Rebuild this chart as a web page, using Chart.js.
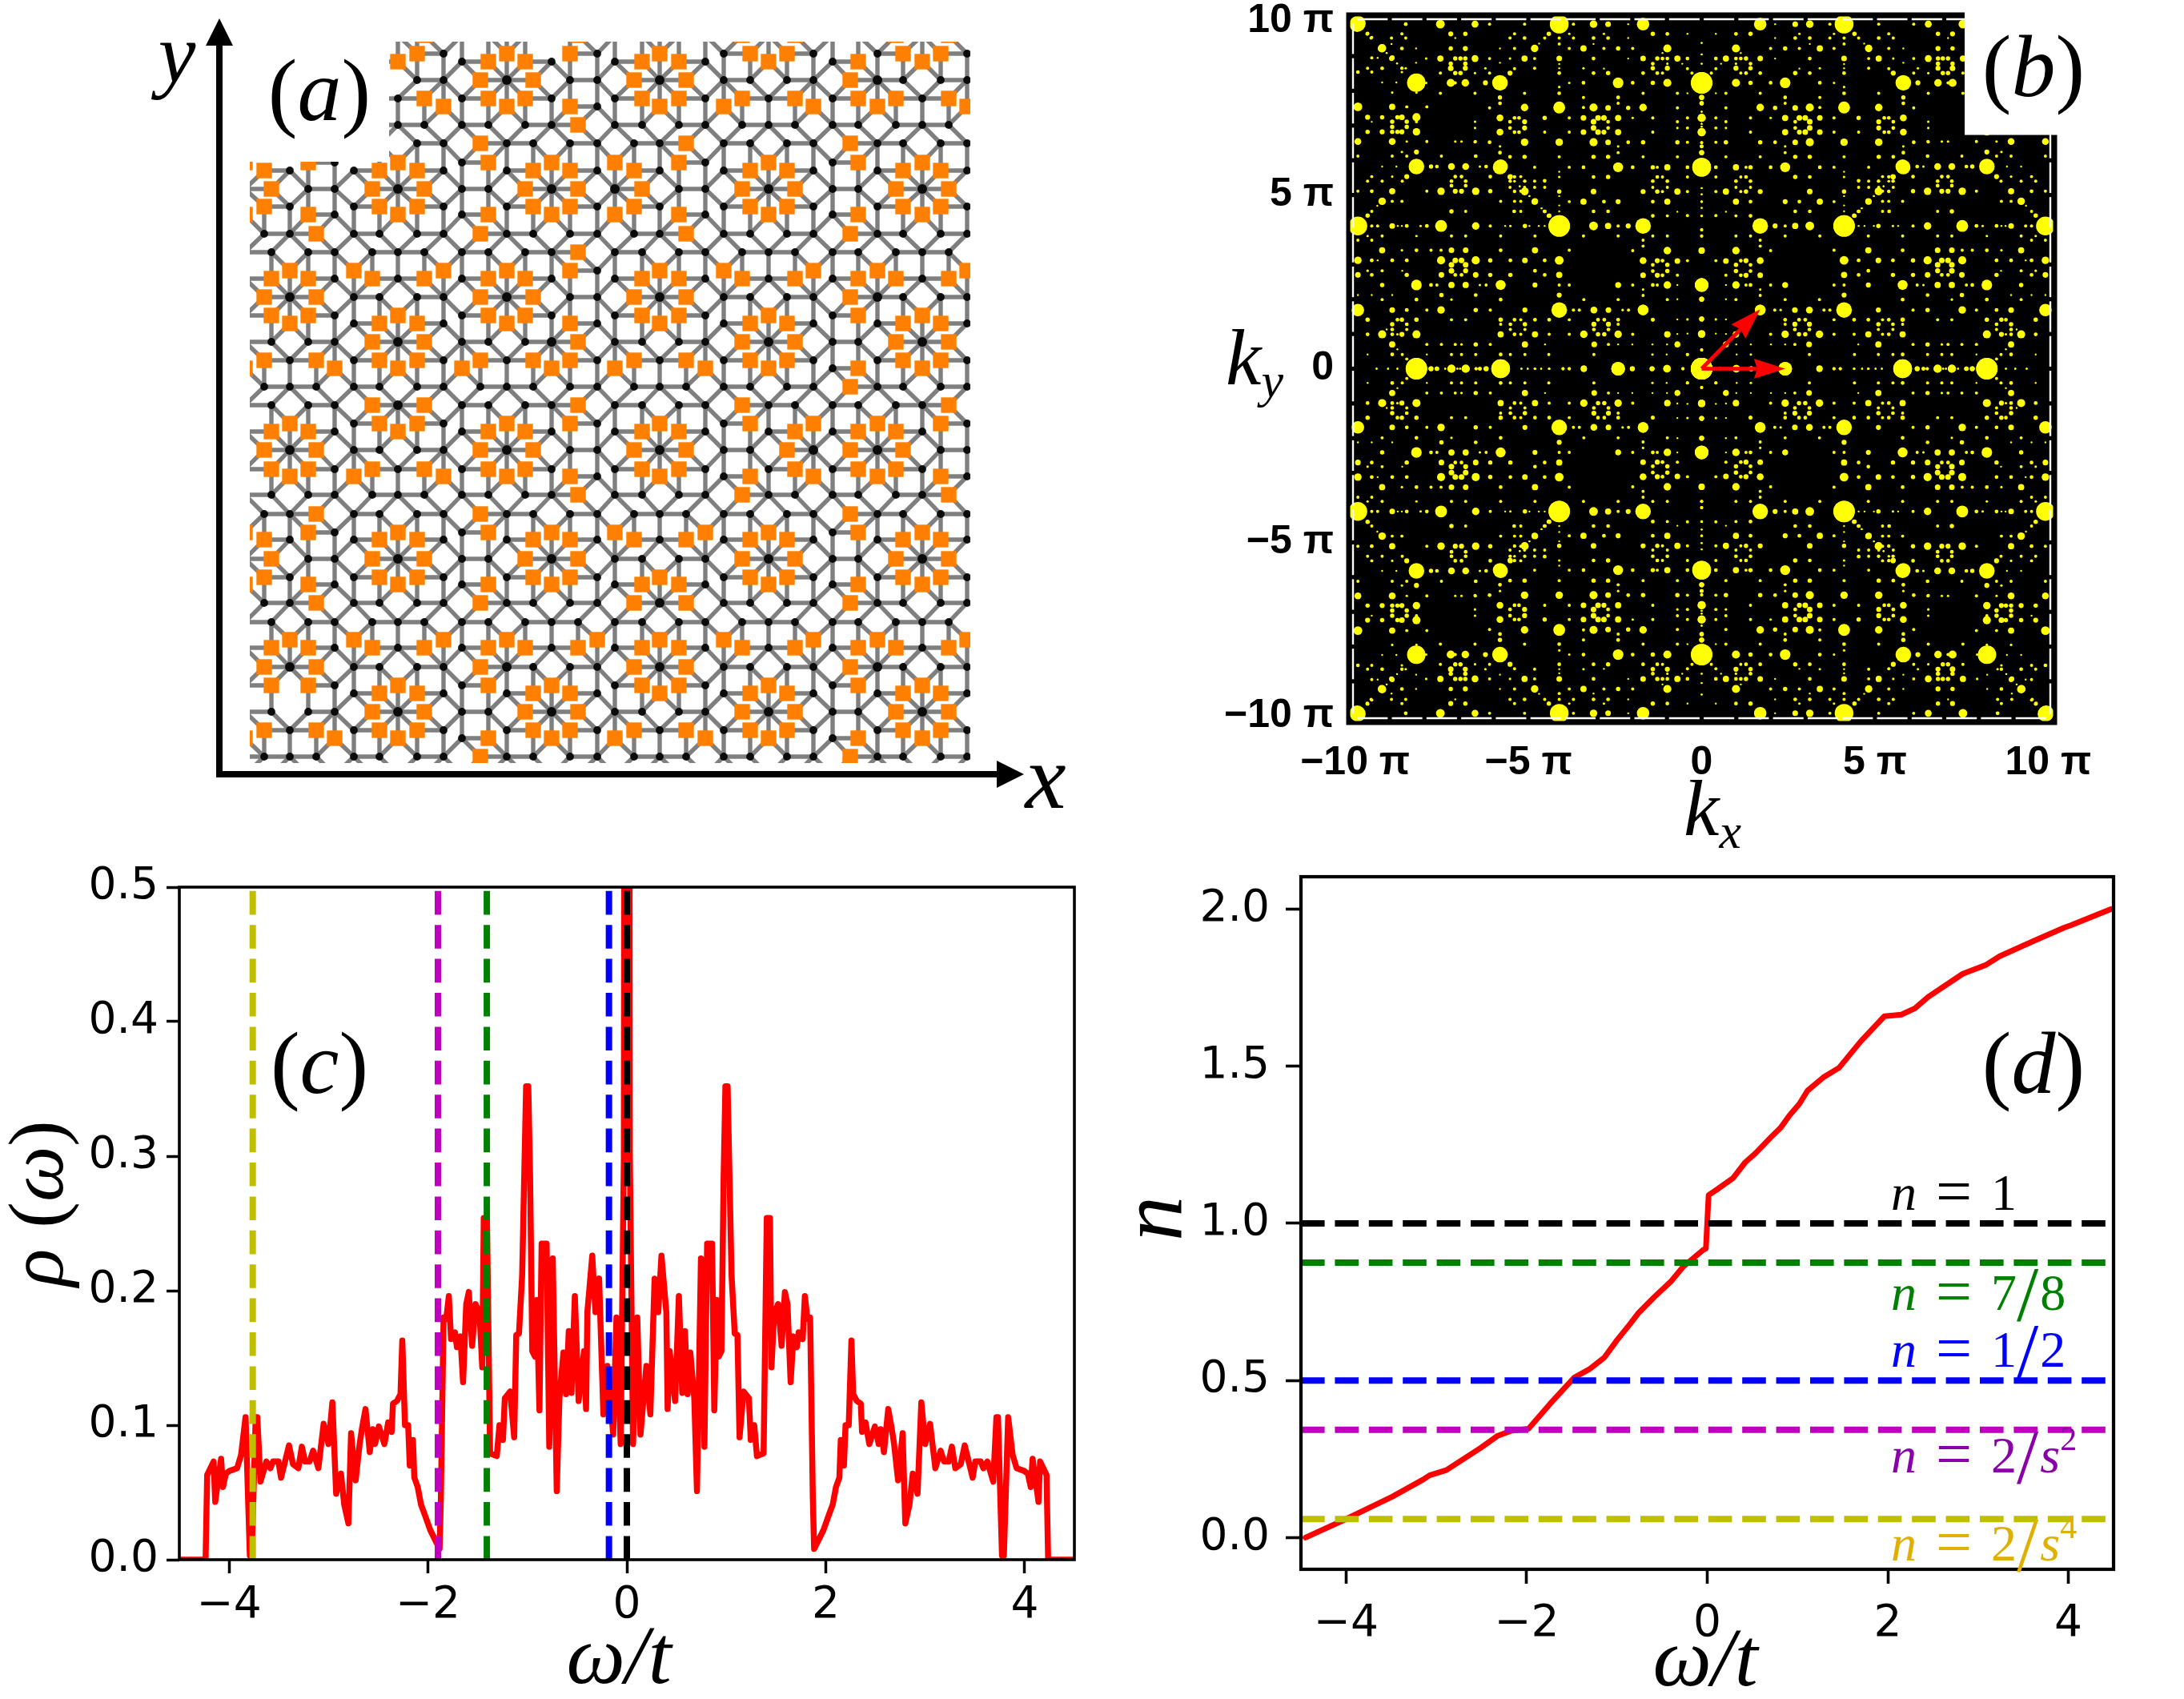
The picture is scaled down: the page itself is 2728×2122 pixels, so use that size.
<!DOCTYPE html>
<html>
<head>
<meta charset="utf-8">
<title>Quasicrystal panels</title>
<script src="https://cdn.jsdelivr.net/npm/chart.js@4"></script>
<style>
html, body { margin: 0; padding: 0; background: #fff; }
body { width: 2728px; height: 2122px; position: relative; overflow: hidden; }
canvas { position: absolute; }
</style>
</head>
<body>
<script>
// ---- panel (a): tiling sites, one entry per row ----
const siteY = [34,44,67,77,100,123,133,156,179,203,213,236,258,268,292,315,338,348,371,394,404,427,450,460,483,506,529,539,562,586,595,618,642,665,674,698,721,730,753,777,799,809,833,856,866,889,912,922,945,968];
const darkSiteX = [
  [521,633,712,824],
  [497,577,610,656,768,802,848,881,960,1040,1072,1152],
  [554,746,904,1016,1096,1208],
  [464,577,689,768,881,1040],
  [521,554,633,712,746,824,904,937,983,1016,1096,1128,1175,1208],
  [464,497,577,689,768,881,960,1040,1152],
  [746],
  [464,497,530,577,610,656,689,768,802,848,881,927,960,993,1040,1072,1119,1152,1185],
  [474,521,554,633,666,712,746,792,824,904,937,983,1016,1096,1128,1175,1208],
  [418,577,881,1040],
  [362,442,554,633,746,824,904,1016,1096,1208],
  [306,385,418,497,577,610,689,768,848,881,960,1040,1072,1152],
  [362,442,554,633,746,824,904,1016,1096,1208],
  [418,577,881,1040],
  [330,362,442,474,521,554,633,666,712,746,792,824,904,937,983,1016,1096,1128,1175,1208],
  [306,339,385,418,465,497,530,577,610,656,689,768,802,848,881,927,960,993,1040,1072,1119,1152,1185],
  [746],
  [306,418,497,577,689,768,881,960,1040,1152],
  [362,442,474,521,554,633,712,746,824,904,937,983,1016,1096,1128,1175,1208],
  [306,418,577,689,768,881,1040],
  [442,554,746,904,1016,1096,1208],
  [306,339,385,418,497,577,610,656,689,768,802,848,881,960,1040,1072,1152],
  [362,442,554,633,746,824,904,1016,1096,1208],
  [1040],
  [330,362,395,442,474,521,554,600,633,666,712,746,792,824,857,904,937,983,1016,1096,1128,1175,1208],
  [306,339,385,418,497,577,610,656,689,768,802,848,881,960,993,1040,1072,1119,1152],
  [442,554,746,904,1208],
  [306,418,577,689,768,881,960,1040,1152],
  [362,442,474,521,554,633,712,746,824,904,937,1016,1096,1175,1208],
  [306,418,497,577,689,768,881,960,1040,1152],
  [746,904,1208],
  [306,339,385,418,465,497,530,577,610,656,689,768,802,848,881,960,993,1040,1072,1119,1152],
  [330,362,442,474,521,554,633,666,712,746,792,824,857,904,937,983,1016,1096,1128,1175,1208],
  [418,577,1040],
  [362,442,554,633,746,824,904,1016,1096,1208],
  [306,385,418,497,577,610,689,768,802,848,881,960,1040,1072,1152],
  [362,442,554,633,746,904,1016,1096,1208],
  [418,577,768,881,1040],
  [330,362,442,474,521,554,633,666,712,746,824,904,937,983,1016,1096,1128,1175,1208],
  [306,339,385,418,465,497,530,577,610,656,689,722,768,802,848,881,927,960,993,1040,1072,1119,1152,1185],
  [],
  [306,418,497,577,689,768,881,960,1040,1152],
  [362,442,474,521,554,633,666,712,746,824,904,937,983,1016,1096,1128,1175,1208],
  [306,418,577,768,881,1040],
  [442,554,633,746,904,1016,1096,1208],
  [306,339,385,418,497,577,610,689,768,802,848,881,960,1040,1072,1152],
  [362,442,554,633,746,824,904,1016,1096,1208],
  [577,1040],
  [296,330,362,395,442,474,521,554,633,666,712,746,792,824,857,904,937,983,1016,1096,1128,1175,1208],
  [306,339,385,418,465,497,530,577,610,656,689,722,768,802,848,881,927,960,993,1040,1072,1119,1152,1185]
];
const orangeSiteX = [
  [],
  [530,722,927,993,1119,1185],
  [521,633,712,824,937,983,1128,1175],
  [497,610,656,802,848,960,1072,1152],
  [600,666,792,857,1062],
  [530,610,656,802,848,927,993,1072,1119,1185],
  [554,633,712,824,904,1016,1096,1208],
  [722],
  [600,857,1062],
  [306,385,497,610,689,768,848,960,1072,1152],
  [330,474,521,666,712,792,937,983,1128,1175],
  [339,465,530,656,722,802,927,993,1119,1185],
  [330,474,521,666,712,792,937,983,1128,1175],
  [306,385,497,610,689,768,848,960,1072,1152],
  [395,600,857,1062],
  [722],
  [362,442,554,633,712,824,904,1016,1096,1208],
  [339,385,465,530,610,656,802,848,927,993,1072,1119,1185],
  [330,395,600,666,792,857,1062],
  [339,385,497,610,656,802,848,960,1072,1152],
  [362,474,521,633,712,824,937,983,1128,1175],
  [465,530,722,927,993,1119,1185],
  [330,395,474,521,600,666,712,792,857,937,983,1128,1175],
  [306,418,497,577,689,768,881,960,1072,1152],
  [1062],
  [465,530,722,927,1185],
  [362,474,521,633,712,824,937,1016,1096,1175],
  [339,385,497,610,656,802,848,993,1072,1119],
  [330,395,600,666,792,857,983,1062,1128],
  [339,385,465,530,610,656,802,848,993,1072,1119],
  [362,442,554,633,712,824,937,1016,1096,1175],
  [722,927,1185],
  [395,600,1062],
  [306,385,497,610,689,768,881,960,1072,1152],
  [330,474,521,666,712,792,857,937,983,1128,1175],
  [339,465,530,656,722,927,993,1119,1185],
  [330,474,521,666,712,824,937,983,1128,1175],
  [306,385,497,610,689,802,848,960,1072,1152],
  [395,600,792,857,1062],
  [],
  [362,442,554,633,746,824,904,1016,1096,1208],
  [339,385,465,530,610,656,722,802,848,927,993,1072,1119,1185],
  [330,395,600,792,857,1062],
  [339,385,497,610,689,802,848,960,1072,1152],
  [474,521,666,712,824,937,983,1128,1175],
  [465,530,656,722,927,993,1119,1185],
  [330,395,474,521,666,712,792,857,937,983,1128,1175],
  [306,418,497,610,689,768,881,960,1072,1152],
  [600,1062],
  []
];

// ---- panel (b): Bragg peaks of one octant, k in units of pi, weight per peak ----
const peakKy = [0,0.41,0.70,0.99,1.28,1.41,1.69,1.99,2.12,2.41,2.70,2.82,3.12,3.41,3.70,3.82,4.11,4.41,4.53,4.69,4.82,5.11,5.40,5.53,5.82,6.12,6.24,6.54,6.82,7.11,7.24,7.54,7.95,8.24,8.54,8.65,8.79,8.95,9.09,9.23,9.54,9.65,9.94,
  2.99,6.96,7.24,6.82,1.13,1.41,5.27,0.56,0.28,4.62,4.97,5.25,0.70,5.53,5.40,5.11];
const peakKx = [
  [0,0.54,1.0,1.43,2.0,2.41,3.40,3.82,4.0,4.40,4.63,4.81,5.02,5.2,5.80,6.22,6.40,6.51,6.81,6.97,7.05,7.22,7.40,7.64,7.81,8.23,8.78,9.05,9.38],
  [0.41,1.01,1.42,3.11,4.41,5.10,5.52,5.80,6.52,6.93,7.22,7.93,8.64,8.93,9.64],
  [0.70,2.69,3.10,4.52,5.10,6.10,6.52,6.93,7.11,7.51,7.93,8.93],
  [0.99,1.99,2.41,2.81,2.99,3.40,3.82,4.40,4.81,5.22,5.40,5.80,8.23,8.65,8.78,8.93,9.22,9.64],
  [2.41,2.69,3.11,5.10,5.52,5.80,8.51,8.93],
  [1.41,2.41,2.81,2.99,3.82,4.40,4.81,5.22,5.40,5.80,6.81,7.22,8.23,8.65,9.64],
  [1.69,2.11,2.28,2.69,3.11,3.53,3.70,4.11,5.10,6.10,6.52,7.52,7.93,8.51,8.93,9.92],
  [2.41,3.40,5.80,7.22,8.23,9.22],
  [4.11,6.52,7.51,8.93,9.52,9.92],
  [2.41,3.82,4.11,4.81,5.80,6.22,6.40,6.81,7.22,7.64,7.81,8.23,9.22],
  [4.11,4.53,5.52,6.10,6.52,6.93,7.11,7.51,8.51,9.52,9.92],
  [4.81,6.81,7.22,8.64,9.22,9.64],
  [4.11,4.53,5.10,5.52,6.10,6.52,6.93,7.11,7.52,8.51,8.93,9.35,9.52,9.92],
  [3.82,4.81,5.80,6.81,7.22,7.52,7.81,8.23,8.65,9.22],
  [9.52,9.92],
  [4.81,5.80,6.81,7.22,8.23,9.22,9.64],
  [4.11,4.53,4.70,4.97,5.10,5.52,5.67,6.10,6.52,7.52,7.93,8.11,8.51,8.65,8.77,8.93,9.35,9.52,9.92],
  [4.40,9.64],
  [4.53,5.22,5.41,6.81,7.22,9.52],
  [9.36],
  [4.81,5.22,5.40,5.80,8.65,8.93,9.22],
  [5.10,6.10,6.52,6.93,7.11,7.52,7.93,8.93,9.52,9.92],
  [5.40,6.81,7.22,8.64,9.22,9.64],
  [5.52,6.10,6.93,7.11,8.51,8.93,9.52],
  [5.80,6.22,6.40,6.81,7.22,7.64,7.81,8.23,8.81,9.22],
  [6.52,7.51,8.51,8.93,9.92],
  [8.23,8.65],
  [6.53,6.93,7.11,7.93,8.51,8.93,9.92],
  [8.23,8.65,8.93,9.22,9.64],
  [8.23,8.51,8.93,9.52],
  [8.23,8.65,9.22,9.64],
  [7.93,8.51,8.93,9.92],
  [8.23,8.93],
  [8.23,8.81,9.22],
  [8.65,9.52,9.92],
  [8.65,9.22,9.64],
  [8.79],
  [8.93,9.35,9.52],
  [9.09],
  [9.22],
  [9.52],
  [9.64],
  [9.92],
  [6.81,7.22],
  [8.51,8.93],
  [8.78],
  [8.78],
  [2.69,3.11,5.10,5.52,8.51,8.93,9.09],
  [8.78],
  [6.81,7.22],
  [8.78],
  [8.51],
  [4.62],
  [4.97],
  [5.25],
  [1.0,1.42,2.0,2.41],
  [5.22,5.40],
  [5.10,5.52],
  [5.22,5.40]
];
const peakWeight = [
  [40,5,12,8,8,22,10,5,5,4,3,4,3,3,30,8,6,5,13,3,3,13,3,7,8,35,3,3,3],
  [5,3,4,5,5,5,5,6,5,5,5,3,5,6,3],
  [9,5,9,3,10,5,7,4,5,5,5,10],
  [10,5,12,7,7,12,5,5,10,5,6,10,13,8,4,6,13,6],
  [5,8,8,7,6,5,6,7],
  [6,6,6,6,5,6,6,5,6,7,5,5,7,7,7],
  [17,5,4,9,11,5,5,25,8,5,7,12,5,6,9,20],
  [5,5,6,4,6,5],
  [8,6,7,3,3,3],
  [9,5,5,8,16,5,4,10,10,5,6,17,7],
  [10,6,7,7,9,6,6,9,7,6,9],
  [6,8,9,3,5,4],
  [14,6,9,6,7,13,9,9,13,6,6,3,6,12],
  [5,10,6,9,9,5,5,6,4,10],
  [5,5],
  [5,5,5,5,4,5,4],
  [38,3,3,3,7,4,3,5,12,19,6,4,6,3,3,9,5,5,30],
  [7,7],
  [6,5,6,5,7,5],
  [3],
  [10,5,5,5,5,5,12],
  [12,7,12,8,8,12,5,10,6,5],
  [4,6,6,5,5,5],
  [8,6,6,6,8,4,5],
  [23,6,4,11,11,6,7,25,3,3],
  [6,5,5,5,5],
  [8,4],
  [5,4,4,5,4,11,11],
  [12,8,7,8,7],
  [5,7,7,3],
  [13,9,7,8],
  [5,5,10,14],
  [4,4],
  [29,3,3],
  [4,5,6],
  [5,6,5],
  [3],
  [8,3,5],
  [3],
  [13],
  [5],
  [6],
  [25],
  [9,9],
  [7,7],
  [7],
  [7],
  [6,6,5,5,5,6,3],
  [6],
  [6,6],
  [3],
  [5],
  [3],
  [3],
  [3],
  [3,3,3,3],
  [5,5],
  [5,5],
  [5,5]
];
const kTicks = [-10,-5,0,5,10];
const arrowTips = [[2.41,0],[1.69,1.71]];

const omegaPos = [0.006,0.03,0.062,0.105,0.137,0.196,0.236,0.279,0.316,0.348,0.397,0.41,0.431,0.485,0.523,0.557,0.584,0.611,0.638,0.678,0.705,0.745,0.78,0.807,0.857,0.879,0.906,0.924,0.951,0.973,0.991,1.013,1.053,1.085,1.112,1.133,1.174,1.227,1.246,1.281,1.308,1.375,1.407,1.417,1.439,1.454,1.481,1.521,1.556,1.589,1.615,1.647,1.674,1.709,1.728,1.768,1.79,1.816,1.843,1.87,1.883,1.923,1.977,2.03,2.07,2.103,2.137,2.151,2.183,2.199,2.231,2.258,2.276,2.312,2.352,2.365,2.4,2.438,2.494,2.532,2.553,2.585,2.628,2.66,2.687,2.727,2.773,2.8,2.842,2.875,2.923,2.961,3.0,3.049,3.102,3.155,3.19,3.236,3.268,3.303,3.357,3.397,3.477,3.504,3.558,3.585,3.625,3.684,3.716,3.732,3.772,3.791,3.834,3.879,3.919,3.995,4.032,4.061,4.08,4.139,4.155,4.22,4.236,4.5];
const rhoPos = [2.0,0.3,0.086,0.18,0.093,0.144,0.108,0.209,0.184,0.226,0.184,0.112,0.155,0.118,0.196,0.124,0.17,0.123,0.154,0.12,0.051,0.224,0.084,0.235,0.235,0.111,0.193,0.151,0.155,0.285,0.352,0.352,0.211,0.168,0.167,0.091,0.125,0.12,0.089,0.1,0.077,0.079,0.254,0.254,0.254,0.143,0.183,0.19,0.159,0.199,0.19,0.132,0.166,0.158,0.169,0.164,0.196,0.179,0.18,0.046,0.008,0.014,0.022,0.033,0.041,0.054,0.061,0.089,0.07,0.1,0.1,0.163,0.123,0.118,0.116,0.095,0.102,0.086,0.099,0.086,0.097,0.08,0.112,0.099,0.086,0.059,0.094,0.027,0.041,0.064,0.049,0.117,0.086,0.101,0.068,0.081,0.073,0.073,0.084,0.068,0.071,0.085,0.061,0.073,0.073,0.068,0.073,0.058,0.106,0.106,0.003,0.003,0.106,0.078,0.068,0.066,0.064,0.054,0.075,0.043,0.073,0.063,0,0];
const rhoLevels = [-3.762,-1.90,-1.408,-0.18,0];
const rhoLevelColors = ['#bfbf00','#bf00bf','#008000','#0000ff','#000000'];
const omegaTicks = [-4,-2,0,2,4];
const rhoTicks = [0,0.1,0.2,0.3,0.4,0.5];

// ---- panel (d): filling against energy ----
const omegaFill = [-4.45,-4,-3.49,-3.15,-3.075,-2.89,-2.51,-2.32,-2.17,-1.98,-1.74,-1.47,-1.31,-1.14,-1.0,-0.857,-0.767,-0.594,-0.406,-0.27,-0.045,-0.015,0.015,0.12,0.286,0.42,0.534,0.722,0.812,0.91,1.02,1.11,1.286,1.46,1.70,1.962,2.15,2.30,2.45,2.83,3.09,3.24,3.62,3.955,4.03,4.47];
const nFill = [0,0.059,0.13,0.184,0.198,0.2145,0.2855,0.324,0.34,0.346,0.426,0.51,0.535,0.573,0.628,0.679,0.713,0.7635,0.814,0.861,0.9155,0.92,1.09,1.11,1.144,1.194,1.223,1.279,1.304,1.343,1.38,1.422,1.4645,1.495,1.579,1.659,1.664,1.684,1.721,1.794,1.823,1.85,1.899,1.941,1.949,2.0];
const nLevels = [0.0589,0.343,0.5,0.875,1];
const nLevelColors = ['#bfbf00','#bf00bf','#0000ff','#008000','#000000'];
const nTicks = [0,0.5,1,1.5,2];

// ---- small helpers ----
const SERIF = '"Liberation Serif"';
const it = (t, s, extra) => Object.assign({ t: t, font: 'italic ' + s + 'px ' + SERIF }, extra);
const rm = (t, s, extra) => Object.assign({ t: t, font: s + 'px ' + SERIF }, extra);

function paren(letter) {
  return [rm('(', 110), it(letter, 110), rm(')', 110)];
}

function drawLabels(chart, box, list) {
  const ctx = chart.ctx;
  list.forEach(function (l) {
    ctx.save();
    ctx.translate(l.x - box.left, l.y - box.top);
    if (l.rot) ctx.rotate(l.rot);
    ctx.fillStyle = l.color || '#000';
    ctx.textBaseline = 'alphabetic';
    ctx.textAlign = 'left';
    let total = 0;
    l.runs.forEach(function (r) {
      ctx.font = r.font;
      total += ctx.measureText(r.t).width + (r.gap || 0);
    });
    let cx = l.left ? 0 : -total / 2;
    l.runs.forEach(function (r) {
      ctx.font = r.font;
      ctx.fillText(r.t, cx, r.dy || 0);
      cx += ctx.measureText(r.t).width + (r.gap || 0);
    });
    ctx.restore();
  });
}

function drawArrow(ctx, x0, y0, x1, y1, lw, headLen, headHalf, notch, color) {
  const ang = Math.atan2(y1 - y0, x1 - x0);
  ctx.save();
  ctx.translate(x0, y0);
  ctx.rotate(ang);
  const len = Math.hypot(x1 - x0, y1 - y0);
  ctx.fillStyle = color;
  ctx.fillRect(0, -lw / 2, len - headLen + notch, lw);
  ctx.beginPath();
  ctx.moveTo(len, 0);
  ctx.lineTo(len - headLen, -headHalf);
  ctx.lineTo(len - headLen + notch, 0);
  ctx.lineTo(len - headLen, headHalf);
  ctx.closePath();
  ctx.fill();
  ctx.restore();
}

function makeCanvas(box) {
  const c = document.createElement('canvas');
  c.width = box.width;
  c.height = box.height;
  c.style.left = box.left + 'px';
  c.style.top = box.top + 'px';
  c.style.width = box.width + 'px';
  c.style.height = box.height + 'px';
  document.body.appendChild(c);
  return c;
}

// options shared by the framed panels: the box and the plot area fix the layout
function framedOptions(box, area, xAxis, yAxis) {
  function axis(opt, horizontal) {
    return {
      type: 'linear',
      min: opt.min,
      max: opt.max,
      afterBuildTicks: function (s) { s.ticks = opt.ticks.map(v => ({ value: v })); },
      afterFit: function (s) {
        if (horizontal) s.height = box.top + box.height - area.bottom;
        else s.width = area.left - box.left;
      },
      border: { display: false },
      grid: opt.tickLength ? {
        display: true, drawOnChartArea: false, drawTicks: true,
        tickLength: opt.tickLength, tickWidth: opt.tickWidth, tickColor: '#000'
      } : { display: false },
      ticks: {
        autoSkip: false, maxRotation: 0, minRotation: 0,
        padding: opt.padding, color: '#000',
        font: opt.font,
        callback: opt.label
      }
    };
  }
  return {
    responsive: false,
    animation: false,
    layout: {
      autoPadding: false,
      padding: { top: area.top - box.top, right: box.left + box.width - area.right, left: 0, bottom: 0 }
    },
    plugins: { legend: { display: false }, tooltip: { enabled: false } },
    scales: { x: axis(xAxis, true), y: axis(yAxis, false) }
  };
}

const signed = digits => v => (v < 0 ? '\u2212' : '') + Math.abs(v).toFixed(digits);

// ---- panel (a) ----
(function () {
  const box = { left: 180, top: 0, width: 1300, height: 1060 };
  const darkSites = [], orangeSites = [];
  siteY.forEach(function (y, i) {
    darkSiteX[i].forEach(x => darkSites.push({ x: x, y: y }));
    orangeSiteX[i].forEach(x => orangeSites.push({ x: x, y: y }));
  });
  // a tile edge joins two sites one edge length apart
  const all = darkSites.concat(orangeSites);
  const edges = [];
  const degree = all.map(() => 0);
  for (let i = 0; i < all.length; i++) {
    for (let j = i + 1; j < all.length; j++) {
      const d = Math.hypot(all[i].x - all[j].x, all[i].y - all[j].y);
      if (d > 30 && d < 36.5) {
        edges.push(all[i], all[j], { x: NaN, y: NaN });
        degree[i]++;
        degree[j]++;
      }
    }
  }
  const labels = [
    { x: 399, y: 150, runs: paren('a') },
    { x: 221, y: 102, runs: [it('y', 105)] },
    { x: 1306, y: 1009, runs: [it('x', 115)] }
  ];
  const axisArrows = [[274, 971, 274, 23], [270, 967, 1279, 967]];
  new Chart(makeCanvas(box), {
    type: 'scatter',
    data: {
      datasets: [
        { data: orangeSites, pointStyle: 'rect', pointRadius: 13.7, pointBackgroundColor: '#ff8000', pointBorderWidth: 0, clip: 0 },
        { data: darkSites, pointRadius: c => degree[c.dataIndex] >= 7 ? 6 : 4.9, pointBackgroundColor: 'rgba(0,0,0,0.92)', pointBorderWidth: 0, clip: 0 },
        { data: edges, showLine: true, spanGaps: false, pointRadius: 0, borderColor: 'rgba(0,0,0,0.5)', borderWidth: 5.4, clip: 0 }
      ]
    },
    options: {
      responsive: false,
      animation: false,
      layout: { autoPadding: false, padding: { left: 132, top: 52, right: 268, bottom: 107 } },
      plugins: { legend: { display: false }, tooltip: { enabled: false } },
      scales: {
        x: { type: 'linear', min: 312, max: 1212, display: false },
        y: { type: 'linear', min: 52, max: 953, reverse: true, display: false }
      }
    },
    plugins: [{
      id: 'panelA',
      afterDatasetsDraw: function (chart) {
        const ctx = chart.ctx, sx = chart.scales.x, sy = chart.scales.y;
        ctx.save();
        ctx.fillStyle = '#fff';
        ctx.fillRect(sx.left - 2, sy.top - 2, sx.getPixelForValue(486) - sx.left + 2, sy.getPixelForValue(202) - sy.top + 2);
        ctx.restore();
        axisArrows.forEach(function (a) {
          drawArrow(ctx, sx.getPixelForValue(a[0]), sy.getPixelForValue(a[1]), sx.getPixelForValue(a[2]), sy.getPixelForValue(a[3]), 8, 34, 17, 0, '#000');
        });
        drawLabels(chart, box, labels);
      }
    }]
  });
})();

// ---- panel (b) ----
(function () {
  const box = { left: 1500, top: -60, width: 1228, height: 1140 };
  const area = { left: 1684, right: 2567, top: 18, bottom: 903 };
  const peaks = [], weights = [];
  peakKy.forEach(function (ky, i) {
    peakKx[i].forEach(function (kx, j) {
      [[kx, ky], [-kx, ky], [kx, -ky], [-kx, -ky], [ky, kx], [-ky, kx], [ky, -kx], [-ky, -kx]].forEach(function (p) {
        peaks.push({ x: p[0], y: p[1] });
        weights.push(peakWeight[i][j]);
      });
    });
  });
  const piLabel = v => v === 0 ? '0' : (v < 0 ? '\u2212' : '') + Math.abs(v) + ' \u03c0';
  const tickFont = { family: '"Liberation Sans"', size: 50, weight: 'bold' };
  const labels = [
    { x: 2540, y: 120, runs: paren('b') },
    { x: 2103, y: 1043, left: true, runs: [it('k', 100), it('x', 62, { dy: 16 })] },
    { x: 1531, y: 480, left: true, runs: [it('k', 100), it('y', 62, { dy: 16 })] }
  ];
  new Chart(makeCanvas(box), {
    type: 'scatter',
    data: {
      datasets: [{
        data: peaks,
        pointRadius: c => Math.min(weights[c.dataIndex] * 0.39, 13.4),
        pointBackgroundColor: '#ffff00',
        pointBorderWidth: 0,
        clip: 0
      }]
    },
    options: framedOptions(box, area,
      { min: -10.2, max: 10.2, ticks: kTicks, padding: 12, font: tickFont, label: piLabel },
      { min: -10.2, max: 10.2, ticks: kTicks, padding: 10, font: tickFont, label: piLabel }),
    plugins: [{
      id: 'panelB',
      beforeDatasetsDraw: function (chart) {
        const a = chart.chartArea, ctx = chart.ctx;
        ctx.save();
        ctx.fillStyle = '#000';
        ctx.fillRect(a.left, a.top, a.right - a.left, a.bottom - a.top);
        ctx.restore();
      },
      afterDatasetsDraw: function (chart) {
        const a = chart.chartArea, ctx = chart.ctx, sx = chart.scales.x, sy = chart.scales.y;
        ctx.save();
        ctx.strokeStyle = '#fff';
        ctx.lineWidth = 2.4;
        for (let k = -10; k < 10; k++) {
          const x0 = sx.getPixelForValue(k + 0.06), x1 = sx.getPixelForValue(k + 0.94);
          const y0 = sy.getPixelForValue(k + 0.06), y1 = sy.getPixelForValue(k + 0.94);
          [[x0, a.top + 6, x1, a.top + 6], [x0, a.bottom - 6, x1, a.bottom - 6],
           [a.left + 6, y0, a.left + 6, y1], [a.right - 6, y0, a.right - 6, y1]].forEach(function (s) {
            ctx.beginPath();
            ctx.moveTo(s[0], s[1]);
            ctx.lineTo(s[2], s[3]);
            ctx.stroke();
          });
        }
        ctx.strokeStyle = '#000';
        ctx.lineWidth = 5;
        ctx.strokeRect(a.left, a.top, a.right - a.left, a.bottom - a.top);
        ctx.restore();
        ctx.save();
        ctx.fillStyle = '#fff';
        const bx = sx.getPixelForValue(7.59);
        ctx.fillRect(bx, 0, box.width - bx, sy.getPixelForValue(6.73));
        ctx.restore();
        arrowTips.forEach(function (t) {
          drawArrow(ctx, sx.getPixelForValue(0), sy.getPixelForValue(0), sx.getPixelForValue(t[0]), sy.getPixelForValue(t[1]), 4.7, 39, 12.5, 4, '#ff0000');
        });
        drawLabels(chart, box, labels);
      }
    }]
  });
})();

// ---- panel (c) ----
(function () {
  const box = { left: 0, top: 1040, width: 1400, height: 1082 };
  const area = { left: 224, right: 1342, top: 1108, bottom: 1948 };
  const omega = omegaPos.map(v => -v).reverse().concat(omegaPos);
  const rho = rhoPos.slice().reverse().concat(rhoPos);
  const curve = omega.map((x, i) => ({ x: x, y: rho[i] }));
  const dashes = rhoLevels.map(function (w, i) {
    return {
      data: [{ x: w, y: 0 }, { x: w, y: 0.5 }],
      showLine: true, pointRadius: 0, borderColor: rhoLevelColors[i],
      borderWidth: 8, borderDash: [29.6, 12.8]
    };
  });
  const tickFont = { family: '"DejaVu Sans"', size: 55 };
  const labels = [
    { x: 399, y: 1365, runs: paren('c') },
    { x: 773, y: 2102, runs: [it('\u03c9/t', 104)] },
    { x: 78, y: 1503, rot: -Math.PI / 2, runs: [it('\u03c1', 98, { gap: 26 }), rm('(', 98), it('\u03c9', 98), rm(')', 98)] }
  ];
  new Chart(makeCanvas(box), {
    type: 'scatter',
    data: {
      datasets: dashes.concat([{
        data: curve, showLine: true, pointRadius: 0, borderColor: '#ff0000',
        borderWidth: 7.5, borderJoinStyle: 'round', borderCapStyle: 'round'
      }])
    },
    options: framedOptions(box, area,
      { min: -4.5, max: 4.5, ticks: omegaTicks, tickLength: 17, tickWidth: 3.5, padding: 8, font: tickFont, label: signed(0) },
      { min: 0, max: 0.5, ticks: rhoTicks, tickLength: 16, tickWidth: 3.5, padding: 10, font: tickFont, label: signed(1) }),
    plugins: [{
      id: 'panelC',
      afterDatasetsDraw: function (chart) {
        const a = chart.chartArea, ctx = chart.ctx;
        ctx.save();
        ctx.strokeStyle = '#000';
        ctx.lineWidth = 3.6;
        ctx.strokeRect(a.left, a.top, a.right - a.left, a.bottom - a.top);
        ctx.restore();
        drawLabels(chart, box, labels);
      }
    }]
  });
})();

// ---- panel (d) ----
(function () {
  const box = { left: 1400, top: 1020, width: 1328, height: 1102 };
  const area = { left: 1625, right: 2640, top: 1095, bottom: 1960 };
  const curve = omegaFill.map((x, i) => ({ x: x, y: nFill[i] }));
  const dashes = nLevels.map(function (n, i) {
    return {
      data: [{ x: -4.5, y: n }, { x: 4.5, y: n }],
      showLine: true, pointRadius: 0, borderColor: nLevelColors[i],
      borderWidth: 8, borderDash: [29.6, 12.8]
    };
  });
  const tickFont = { family: '"DejaVu Sans"', size: 55 };
  const fr = 64;
  const eq = () => [it('n', fr, { gap: 24 }), rm('=', 80, { gap: 24, dy: 4 })];
  const slash = () => rm('/', 98, { dy: 13, gap: 2 });
  const labels = [
    { x: 2540, y: 1365, runs: paren('d') },
    { x: 2130, y: 2105, runs: [it('\u03c9/t', 104)] },
    { x: 1476, y: 1522, rot: -Math.PI / 2, runs: [it('n', 112)] },
    { x: 2362, y: 1511, left: true, runs: eq().concat([rm('1', fr)]) },
    { x: 2362, y: 1636, left: true, color: '#008000', runs: eq().concat([rm('7', fr), slash(), rm('8', fr)]) },
    { x: 2362, y: 1707, left: true, color: '#0000ff', runs: eq().concat([rm('1', fr), slash(), rm('2', fr)]) },
    { x: 2362, y: 1839, left: true, color: '#8a00a8', runs: eq().concat([rm('2', fr), slash(), it('s', fr), rm('2', 42, { dy: -28 })]) },
    { x: 2362, y: 1949, left: true, color: '#e0b000', runs: eq().concat([rm('2', fr), slash(), it('s', fr), rm('4', 42, { dy: -28 })]) }
  ];
  new Chart(makeCanvas(box), {
    type: 'scatter',
    data: {
      datasets: dashes.concat([{
        data: curve, showLine: true, pointRadius: 0, borderColor: '#ff0000',
        borderWidth: 7, borderJoinStyle: 'round', borderCapStyle: 'round'
      }])
    },
    options: framedOptions(box, area,
      { min: -4.5, max: 4.5, ticks: omegaTicks, tickLength: 18, tickWidth: 3.6, padding: 18, font: tickFont, label: signed(0) },
      { min: -0.101, max: 2.103, ticks: nTicks, tickLength: 19, tickWidth: 3.6, padding: 20, font: tickFont, label: signed(1) }),
    plugins: [{
      id: 'panelD',
      afterDatasetsDraw: function (chart) {
        const a = chart.chartArea, ctx = chart.ctx;
        ctx.save();
        ctx.strokeStyle = '#000';
        ctx.lineWidth = 4.2;
        ctx.strokeRect(a.left, a.top, a.right - a.left, a.bottom - a.top);
        ctx.restore();
        drawLabels(chart, box, labels);
      }
    }]
  });
})();
</script>
</body>
</html>
